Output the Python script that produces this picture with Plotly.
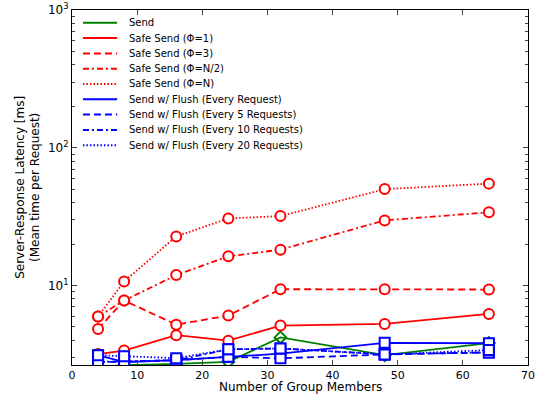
import plotly.graph_objects as go

members = [4, 8, 16, 24, 32, 48, 64]

send = [2.55, 2.64, 2.70, 2.79, 4.20, 3.12, 3.82]
safe_phi1 = [3.18, 3.37, 4.36, 3.98, 5.12, 5.26, 6.22]
safe_phi3 = [4.84, 7.78, 5.20, 6.05, 9.40, 9.40, 9.35]
safe_phi_half = [5.95, 7.78, 11.9, 16.3, 18.2, 29.7, 34.0]
safe_phi_n = [5.95, 10.7, 22.7, 30.7, 31.9, 50.1, 54.9]
flush_1 = [3.12, 2.78, 2.87, 3.04, 3.20, 3.84, 3.81]
flush_5 = [2.79, 2.79, 2.87, 3.04, 2.96, 3.16, 3.27]
flush_10 = [2.79, 2.82, 2.87, 3.44, 3.49, 3.17, 3.27]
flush_20 = [3.12, 3.07, 2.97, 3.44, 3.49, 3.16, 3.40]

x_ticks = [0, 10, 20, 30, 40, 50, 60, 70]
y_ticks = [10, 100, 1000]
y_tick_text = ["10<sup>1</sup>", "10<sup>2</sup>", "10<sup>3</sup>"]
y_minor = [m * d for d in (1, 10, 100) for m in range(2, 10)]

GREEN = "#008000"
RED = "#ff0000"
BLUE = "#0000ff"

DASH = "7px,4px"
DASHDOT = "6px,3px,2px,3px"
DOT = "1.5px,2px"

series = [
    ("Send", send, GREEN, "solid", "diamond-open"),
    ("Safe Send (\u03a6=1)", safe_phi1, RED, "solid", "circle"),
    ("Safe Send (\u03a6=3)", safe_phi3, RED, DASH, "circle"),
    ("Safe Send (\u03a6=N/2)", safe_phi_half, RED, DASHDOT, "circle"),
    ("Safe Send (\u03a6=N)", safe_phi_n, RED, DOT, "circle"),
    ("Send w/ Flush (Every Request)", flush_1, BLUE, "solid", "square"),
    ("Send w/ Flush (Every 5 Requests)", flush_5, BLUE, DASH, "square"),
    ("Send w/ Flush (Every 10 Requests)", flush_10, BLUE, DASHDOT, "square"),
    ("Send w/ Flush (Every 20 Requests)", flush_20, BLUE, DOT, "square"),
]

fig = go.Figure()
shapes = []
annotations = []

# manual legend geometry (paper coords)
leg_x0, leg_x1, leg_tx = 0.024, 0.099, 0.121
leg_top, leg_step = 0.964, 0.0431

for i, (name, vals, color, dash, sym) in enumerate(series):
    fig.add_trace(go.Scatter(
        x=members, y=vals, mode="lines", name=name, showlegend=False,
        line=dict(color=color, width=1.8, dash=dash),
    ))
    fig.add_trace(go.Scatter(
        x=members, y=vals, mode="markers", showlegend=False, hoverinfo="skip",
        marker=dict(symbol=sym, size=10 if sym != "diamond-open" else 9,
                    color="white" if sym != "diamond-open" else color,
                    line=dict(color=color, width=2)),
    ))
    yy = leg_top - i * leg_step
    shapes.append(dict(type="line", xref="paper", yref="paper",
                       x0=leg_x0, x1=leg_x1, y0=yy, y1=yy,
                       line=dict(color=color, width=2, dash=dash)))
    annotations.append(dict(text=name, xref="paper", yref="paper",
                            x=leg_tx, y=yy, xanchor="left", yanchor="middle",
                            showarrow=False, font=dict(size=10)))

annotations.append(dict(
    text="Server-Response Latency [ms]<br>(Mean time per Request)",
    xref="paper", yref="paper", x=-0.098, y=0.5, textangle=-90,
    showarrow=False, font=dict(size=12), xanchor="center", yanchor="middle",
))
annotations.append(dict(
    text="Number of Group Members",
    xref="paper", yref="paper", x=0.5, y=-0.0845,
    showarrow=False, font=dict(size=12), xanchor="center", yanchor="bottom",
    borderpad=0,
))

fig.update_layout(
    width=542, height=395,
    margin=dict(l=72, r=14, t=10, b=30),
    paper_bgcolor="white", plot_bgcolor="white",
    font=dict(family="DejaVu Sans", size=12, color="black"),
    showlegend=False,
    xaxis=dict(range=[0, 70], tickvals=x_ticks, ticks="inside", ticklen=5,
               tickfont=dict(size=11),
               showline=True, linecolor="black", linewidth=1, mirror="ticks",
               showgrid=False, zeroline=False, automargin=False),
    yaxis=dict(type="log", range=[0.423, 3], tickvals=y_ticks, ticktext=y_tick_text,
               ticks="inside", ticklen=5, showline=True, linecolor="black",
               linewidth=1, mirror="ticks", showgrid=False, zeroline=False,
               automargin=False,
               minor=dict(tickvals=y_minor, ticks="inside", ticklen=3,
                          showgrid=False)),
    shapes=shapes,
    annotations=annotations,
)

fig.write_html("out.html",
               config={"displayModeBar": False, "staticPlot": True},
               post_script="document.body.style.margin='0';"
                           "document.body.style.overflow='hidden';")
